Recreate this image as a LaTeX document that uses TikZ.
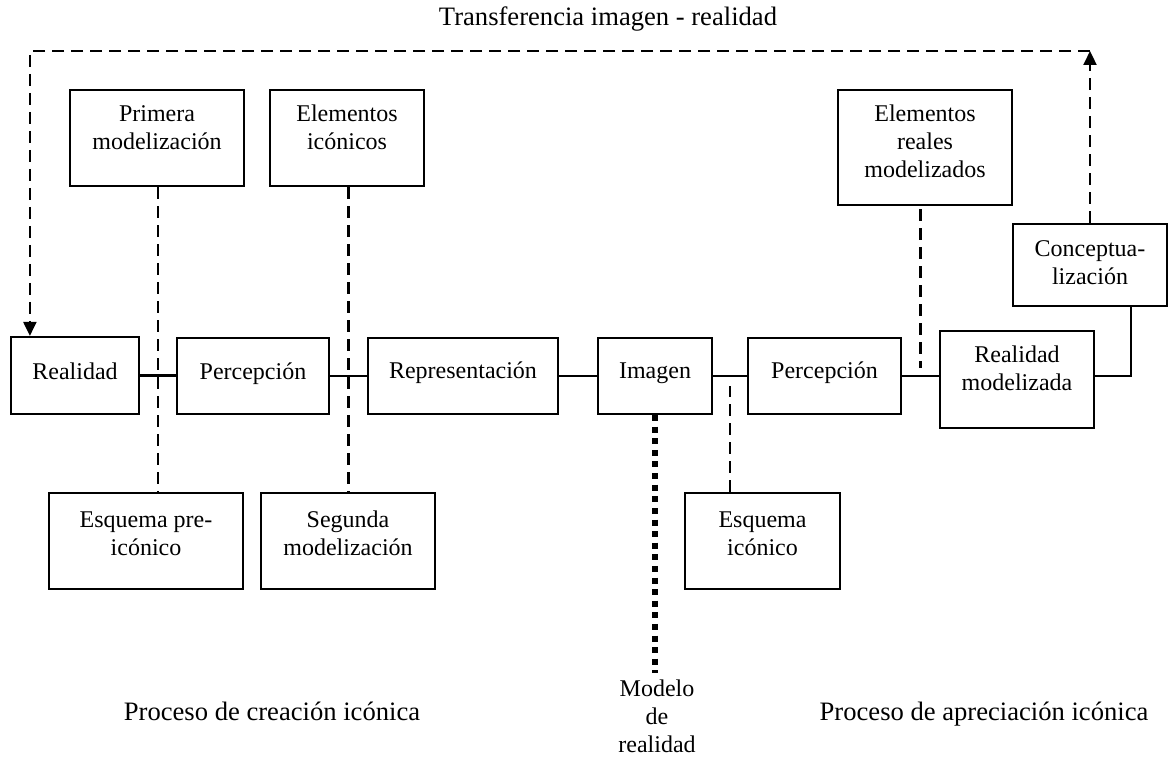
\documentclass[tikz,border=0pt]{standalone}
\usepackage{fontspec}
\setmainfont{Liberation Serif}
\usetikzlibrary{arrows.meta,calc}
\begin{document}
\begin{tikzpicture}[x=0.5pt,y=-0.5pt,
  box/.style={draw,line width=1.1pt,inner sep=0pt},
  txt/.style={align=center,font=\fontsize{12}{14}\selectfont,inner sep=0pt,anchor=base},
  lbl/.style={font=\fontsize{13.3}{16}\selectfont,inner sep=0pt,anchor=base},
  conn/.style={line width=1.1pt},
  dsh/.style={line width=1.1pt,dash pattern=on 6pt off 3.5pt},
  dts/.style={line width=2.6pt,dash pattern=on 3pt off 2.8pt},
  arr/.style={-{Triangle[length=7pt,width=6.5pt]}}
]
\useasboundingbox (0,0) rectangle (1171,758);

% boxes
\node[box,minimum width=64pt,minimum height=38.5pt] (real) at (75,375.5) {};
\node[box,minimum width=76pt,minimum height=38pt] (perc1) at (253,376) {};
\node[box,minimum width=95pt,minimum height=38pt] (repr) at (463,376) {};
\node[box,minimum width=57pt,minimum height=38pt] (imag) at (655,376) {};
\node[box,minimum width=76.5pt,minimum height=38pt] (perc2) at (824.5,376) {};
\node[box,minimum width=77pt,minimum height=48.5pt] (rmod) at (1017,379.5) {};
\node[box,minimum width=87pt,minimum height=48pt] (prim) at (157,138) {};
\node[box,minimum width=77pt,minimum height=48pt] (elic) at (347,138) {};
\node[box,minimum width=87pt,minimum height=57.5pt] (erm) at (925,147.5) {};
\node[box,minimum width=77pt,minimum height=41pt] (conc) at (1090,265) {};
\node[box,minimum width=97pt,minimum height=48pt] (epre) at (146,541) {};
\node[box,minimum width=87pt,minimum height=48pt] (segu) at (348,541) {};
\node[box,minimum width=77.5pt,minimum height=48pt] (eico) at (762.5,541) {};

% box texts (anchor = baseline of last line)
\node[txt] (realT) at (75,380) {Realidad};
\node[txt] (perc1T) at (253,380) {Percepción};
\node[txt] (reprT) at (463,379) {Representación};
\node[txt] (imagT) at (655,379) {Imagen};
\node[txt] (perc2T) at (824.5,379) {Percepción};
\node[txt] (rmodT) at (1017,391) {Realidad\\modelizada};
\node[txt] (primT) at (157,150) {Primera\\modelización};
\node[txt] (elicT) at (347,150) {Elementos\\icónicos};
\node[txt] (ermT) at (925,178) {Elementos\\reales\\modelizados};
\node[txt] (concT) at (1090,285) {Conceptua-\\lización};
\node[txt] (epreT) at (146,555) {Esquema pre-\\icónico};
\node[txt] (seguT) at (348,555) {Segunda\\modelización};
\node[txt] (eicoT) at (762.5,555) {Esquema\\icónico};
\node[txt] (mod) at (657,752) {Modelo\\de\\realidad};

% labels
\node[lbl] (transf) at (608,26) {Transferencia imagen - realidad};
\node[lbl] (pc) at (272,720) {Proceso de creación icónica};
\node[lbl] (pa) at (984,720) {Proceso de apreciación icónica};

% solid connectors
\draw[conn] (real.east) -- (real.east -| perc1.west);
\draw[conn] (perc1) -- (repr);
\draw[conn] (repr) -- (imag);
\draw[conn] (imag) -- (perc2);
\draw[conn] (perc2.east) -- (perc2.east -| rmod.west);
\draw[conn] (perc2.east -| rmod.east) -| ($(conc.south)+(41,0)$);

% midpoints of connectors
\coordinate (m1) at ($(real.east)!0.5!(perc1.west)$);
\coordinate (m2) at ($(perc1.east)!0.5!(repr.west)$);
\coordinate (m3) at ($(imag.east)!0.5!(perc2.west)$);
\coordinate (m4) at ($(perc2.east)!0.5!(rmod.west)$);

% dashed connectors
\draw[dsh] (prim.south -| m1) -- (epre.north -| m1);
\draw[dsh] (elic.south -| m2) -- (segu.north -| m2);
\draw[dsh] (eico.north -| m3) -- ([yshift=-5pt]m3);
\draw[dsh] ([yshift=-1.5pt]erm.south -| m4) -- ([yshift=5pt]m4);

% transfer loop
\coordinate (top) at (0,51);
\draw[dsh,arr] (conc.north) -- (conc.north |- top);
\draw[dsh,arr] (conc.north |- top) -| ($(real.north west)+(20,0)$);

% dotted to model
\draw[dts] (imag.south) -- (imag.south |- {0,673});
\end{tikzpicture}
\end{document}
